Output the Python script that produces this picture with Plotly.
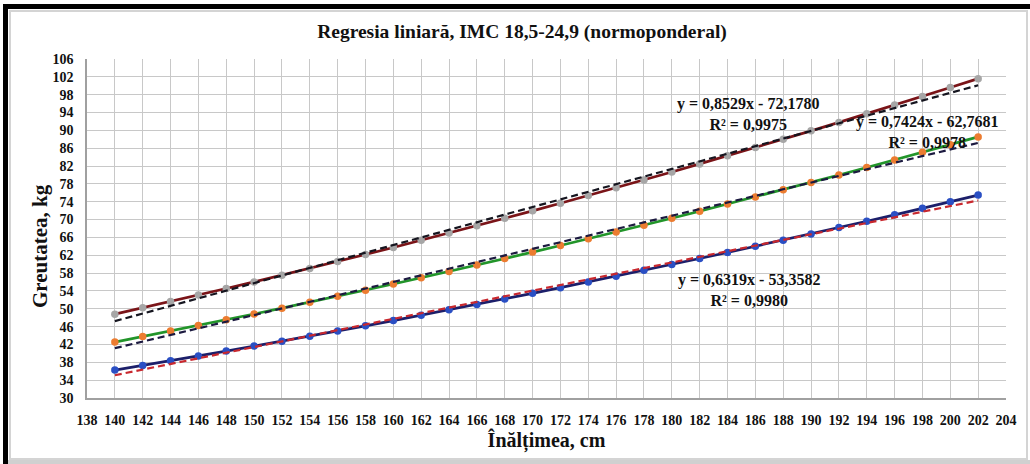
import plotly.graph_objects as go

heights = [140, 142, 144, 146, 148, 150, 152, 154, 156, 158, 160, 162, 164, 166, 168, 170,
           172, 174, 176, 178, 180, 182, 184, 186, 188, 190, 192, 194, 196, 198, 200, 202]

w_low = [36.26, 37.30, 38.36, 39.43, 40.52, 41.63, 42.74, 43.87, 45.02, 46.18, 47.36, 48.55,
         49.76, 50.98, 52.21, 53.47, 54.73, 56.01, 57.31, 58.62, 59.94, 61.28, 62.63, 64.00,
         65.39, 66.79, 68.20, 69.63, 71.07, 72.53, 74.00, 75.49]
w_mid = [42.53, 43.76, 45.00, 46.26, 47.53, 48.83, 50.14, 51.46, 52.81, 54.17, 55.55, 56.95,
         58.36, 59.80, 61.25, 62.71, 64.20, 65.70, 67.22, 68.75, 70.31, 71.88, 73.47, 75.07,
         76.70, 78.34, 79.99, 81.67, 83.36, 85.07, 86.80, 88.54]
w_high = [48.80, 50.21, 51.63, 53.08, 54.54, 56.03, 57.53, 59.05, 60.60, 62.16, 63.74, 65.35,
          66.97, 68.61, 70.28, 71.96, 73.66, 75.39, 77.13, 78.89, 80.68, 82.48, 84.30, 86.14,
          88.01, 89.89, 91.79, 93.71, 95.66, 97.62, 99.60, 101.60]

# regression coefficients shown on the chart
fit_low = (0.6319, -53.3582, "0,9980")
fit_mid = (0.7424, -62.7681, "0,9978")
fit_high = (0.8529, -72.1780, "0,9975")

x_ticks = list(range(138, 206, 2))
y_ticks = list(range(30, 107, 4))

FONT = "Liberation Serif"

fig = go.Figure()

series = [
    (w_high, "#7a1418", "#a6a6a6"),
    (w_mid, "#22952a", "#ec7c30"),
    (w_low, "#1c1f6a", "#2a4fc4"),
]
for ys, lc, mc in series:
    fig.add_trace(go.Scatter(x=heights, y=ys, mode="lines+markers",
                             line=dict(color=lc, width=2.7),
                             marker=dict(color=mc, size=7.5),
                             showlegend=False, hoverinfo="x+y"))

trends = [(fit_high, "#15151f"), (fit_mid, "#1c1a40"), (fit_low, "#c8282e")]
for (a, b, _), c in trends:
    fig.add_trace(go.Scatter(x=heights, y=[a * h + b for h in heights], mode="lines",
                             line=dict(color=c, width=2.2, dash="7px,4px"),
                             showlegend=False, hoverinfo="skip"))


def fmt(v):
    return f"{v:.4f}".replace(".", ",")


def eq_text(fit):
    a, b, r2 = fit
    sign = "-" if b < 0 else "+"
    return f"<b>y = {fmt(a)}x {sign} {fmt(abs(b))}</b><br><b>R² = {r2}</b>"


L, R, T, B = 87, 1006, 59, 398
W, H = 1030, 464


def px(xp):
    return (xp - L) / (R - L)


def py(yp):
    return (B - yp) / (B - T)


ann_pos = [(fit_high, 748, 114), (fit_mid, 927, 132), (fit_low, 749, 290)]
annotations = []
for fit, xc, yc in ann_pos:
    annotations.append(dict(x=px(xc), y=py(yc), xref="paper", yref="paper",
                            text=eq_text(fit), showarrow=False, align="center",
                            font=dict(family=FONT, size=16, color="#111111"),
                            xanchor="center", yanchor="middle"))

# y-axis title placed as rotated text
annotations.append(dict(x=px(40), y=py(246), xref="paper", yref="paper",
                        text="<b>Greutatea, kg</b>", textangle=-90, showarrow=False,
                        font=dict(family=FONT, size=21, color="#111111"),
                        xanchor="center", yanchor="middle"))

shapes = [
    # outer black frame (left and top)
    dict(type="rect", xref="paper", yref="paper", x0=px(3), x1=px(8), y0=py(464), y1=py(4),
         fillcolor="black", line=dict(width=0), layer="below"),
    dict(type="rect", xref="paper", yref="paper", x0=px(3), x1=px(1030), y0=py(9), y1=py(4),
         fillcolor="black", line=dict(width=0), layer="below"),
    # inner light frame
    dict(type="rect", xref="paper", yref="paper", x0=px(10), x1=px(1027), y0=py(459), y1=py(11),
         fillcolor="rgba(0,0,0,0)", line=dict(color="#d4d4d4", width=2), layer="below"),
    dict(type="rect", xref="paper", yref="paper", x0=px(8), x1=px(1030), y0=py(464), y1=py(460),
         fillcolor="#d0d0d0", line=dict(width=0), layer="below"),
]

fig.update_layout(
    width=W, height=H,
    margin=dict(l=L, r=W - R, t=T, b=H - B),
    paper_bgcolor="white", plot_bgcolor="white",
    title=dict(text="Regresia liniară, IMC 18,5-24,9 (normoponderal)",
               x=px(522), xref="paper", xanchor="center", y=1 - 31 / H, yanchor="middle",
               font=dict(family=FONT, size=19.5, color="#111111", weight="bold")),
    xaxis=dict(range=[138, 204], tickvals=x_ticks, ticktext=[str(v) for v in x_ticks],
               showgrid=True, gridcolor="#c8c8c8", gridwidth=1.3, automargin=False,
               showline=True, linecolor="#a0a0a0", linewidth=1.5, zeroline=False,
               ticks="", ticklabelstandoff=8,
               tickfont=dict(family=FONT, size=14, color="#111111", weight="bold"),
               title=dict(text="Înălțimea, cm", standoff=5,
                          font=dict(family=FONT, size=20, color="#111111", weight="bold"))),
    yaxis=dict(range=[30, 106], tickvals=y_ticks, ticktext=[str(v) for v in y_ticks],
               showgrid=True, gridcolor="#c8c8c8", gridwidth=1.3, automargin=False,
               showline=True, linecolor="#a0a0a0", linewidth=1.5, zeroline=False,
               ticks="", ticklabelstandoff=9,
               tickfont=dict(family=FONT, size=14, color="#111111", weight="bold")),
    annotations=annotations,
    shapes=shapes,
    showlegend=False,
)

fig.write_html("out.html", config={"displayModeBar": False},
               post_script="document.body.style.margin='0';document.body.style.overflow='hidden';")
